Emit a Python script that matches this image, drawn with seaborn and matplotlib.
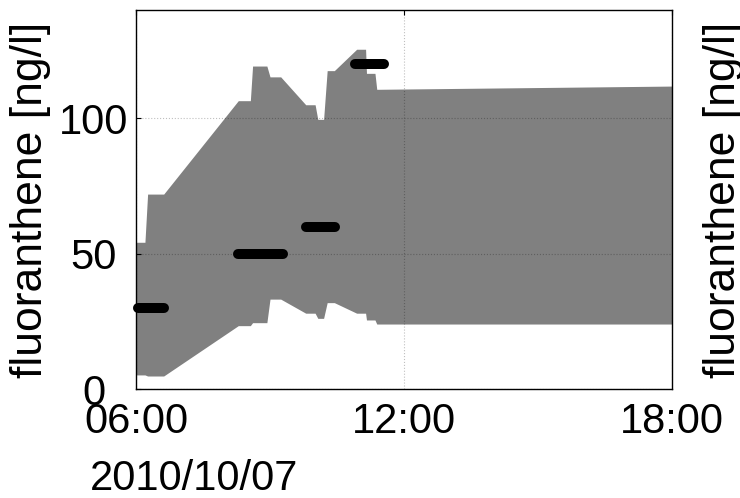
import matplotlib
matplotlib.use("Agg")
import matplotlib.pyplot as plt
import matplotlib.dates as mdates
import numpy as np
import pandas as pd
import seaborn as sns

# --- data -----------------------------------------------------------------
day = "2010-10-07"

# modelled concentration band (times of day, lower / upper bound in ng/l)
band_times = ["06:00", "06:12", "06:15:36", "06:37:12", "08:17:24", "08:33:36",
              "08:36:36", "08:55:48", "09:00", "09:14:24", "09:48", "10:00:36",
              "10:04:12", "10:12", "10:16:48", "10:26:24", "10:56:24", "11:08:24",
              "11:09:36", "11:21", "11:23:24", "18:00"]
band_lower = [5.2, 5.2, 4.8, 4.8, 23.4, 23.4, 24.5, 24.5, 33.2, 33.2, 28.0, 28.0,
              26.1, 26.1, 31.9, 31.9, 28.0, 28.0, 25.5, 25.5, 24.0, 24.0]
band_upper = [54.2, 54.2, 72.0, 72.0, 106.5, 106.5, 119.3, 119.3, 115.3, 115.3,
              105.0, 105.0, 99.6, 99.6, 117.6, 117.6, 125.5, 125.5, 116.6, 116.6,
              110.7, 111.9]

# measured composite samples: start, end, concentration
sample_start = ["06:02:24", "08:17:24", "09:48", "10:54"]
sample_end = ["06:37:48", "09:16:48", "10:27:36", "11:33:36"]
sample_conc = [30, 50, 60, 120]

x_ticks = ["06:00", "12:00", "18:00"]
y_ticks = [0, 50, 100]
y_label = "fluoranthene [ng/l]"
date_label = "2010/10/07"

# --- style ----------------------------------------------------------------
sns.set_theme(style="white")
plt.rcParams["font.family"] = ["Liberation Sans", "DejaVu Sans"]
plt.rcParams["text.color"] = "black"
plt.rcParams["axes.labelcolor"] = "black"
plt.rcParams["axes.edgecolor"] = "black"
plt.rcParams["axes.linewidth"] = 1.0

def ts(t):
    return pd.Timestamp(f"{day} {t}")

t_band = [ts(t) for t in band_times]

samples = pd.DataFrame({
    "time": [ts(t) for pair in zip(sample_start, sample_end) for t in pair],
    "conc": [c for c in sample_conc for _ in range(2)],
    "sample": [i for i in range(len(sample_conc)) for _ in range(2)],
})

fig = plt.figure(figsize=(7.40, 4.98), dpi=100)
ax = fig.add_axes([136 / 740, 1 - 389 / 498, 536 / 740, 379 / 498])

ax.fill_between(t_band, band_lower, band_upper, color="#808080", linewidth=0, zorder=1)

sns.lineplot(data=samples, x="time", y="conc", units="sample", estimator=None,
             color="black", linewidth=7.2, solid_capstyle="round", clip_on=False,
             legend=False, ax=ax, zorder=3)

ax.set_xlim(ts("06:00"), ts("18:00"))
ax.set_ylim(0, 140)
ax.set_xticks([ts(t) for t in x_ticks])
ax.xaxis.set_major_formatter(mdates.DateFormatter("%H:%M"))
ax.set_yticks(y_ticks)
ax.set_xlabel("")
ax.set_ylabel(y_label, fontsize=32, color="black")
ax.yaxis.set_label_coords((51 - 136) / 536, 0.5)

ax.set_axisbelow(False)
ax.grid(True, linestyle=":", color="black", alpha=0.25, linewidth=0.8)

ax.tick_params(axis="both", direction="in", length=3.6, width=0.8,
               top=True, right=True, labelsize=30, colors="black")
ax.tick_params(axis="x", pad=9)
ax.tick_params(axis="y", pad=30.6)
for lab in ax.get_yticklabels():
    lab.set_horizontalalignment("center")

for sp in ax.spines.values():
    sp.set_visible(True)
    sp.set_color("black")

# mirrored axis label on the right-hand side
ax2 = ax.twinx()
ax2.set_ylim(ax.get_ylim())
ax2.set_yticks([])
ax2.set_ylabel(y_label, fontsize=32, color="black")
ax2.yaxis.set_label_coords((703 - 136) / 536, 0.5)
for sp in ax2.spines.values():
    sp.set_visible(False)

fig.text(90 / 740, 1 - 490 / 498, date_label, fontsize=30, color="black",
         ha="left", va="baseline")

fig.savefig("out.png", dpi=100)
